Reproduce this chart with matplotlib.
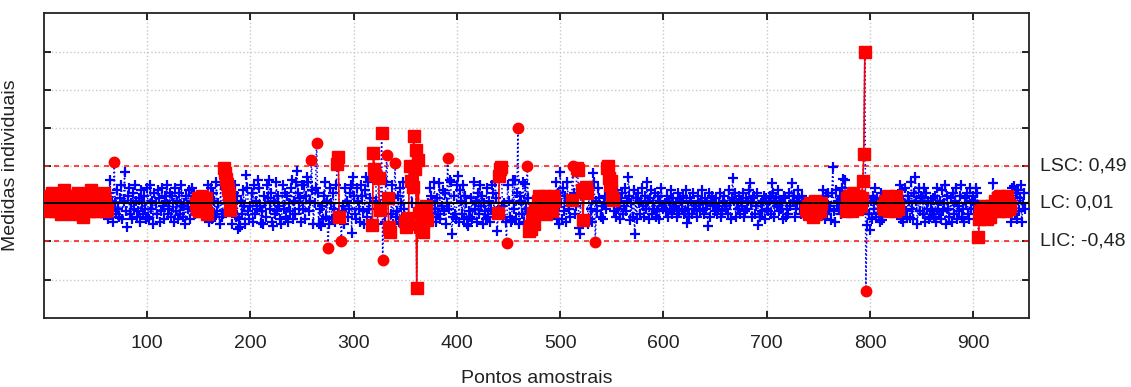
import matplotlib
matplotlib.use("Agg")
import matplotlib.pyplot as plt
import numpy as np

plt.rcParams['font.family'] = ['Liberation Sans', 'DejaVu Sans']

# control limits
LSC, LC, LIC = 0.49, 0.01, -0.48

# base measurements, one letter per sample: 'j' = on LC, each letter step 0.034
rows = [
    "jlhmgkinhj gkmhjfliog kigmhkjfmh lgnijhkemi hmjgkolhjg",  # 1-50
    "kigmljhnkg hdnpgkcmjf ohelqdkiga mpfjdnhqke glcojfmhdp",  # 51-100
    "edqhkbnjfo lcgpidmkqf hnemjcpgkd nfqiejbmho dkpgnfjhlg",  # 101-150
    "kgmijhlfqc hpdnkergjb qefmidpkcr hbgnqemjds kfoibmpgdi",  # 151-200
    "ncqfkhdpir gbmjeqldhn cpkfrgmidb qhnemcjgps dkfrbnhlcq",  # 201-250
    "hqdmcrgkeo bjpfnchqid mrekgbpjdn hcqflmdrgi bpkehnqcjm",  # 251-300
    "fdpkhcqmgb ojerhlcnfd qkbimgpejc rhdnkfqbli egmcpjdrhk",  # 301-350
    "dqhmcjgpkb rfielcnhqd gjbpmkerhc lfqdiognbj phcrkemfdq",  # 351-400
    "hcokfqdmjb pgeldrhkcn fqimbjgdpe kchqnfrlgd mbpiejchqk",  # 401-450
    "ecpjhqdngb mkfrcihjlg dpekqbhkmi gjlhmfkijh lgmkhrdnbq",  # 451-500
    "jdpgmcrhek qbnfidlchp kgqemjbodh cnrfkgplei djmhqcfkbn",  # 501-550
    "kgmeohjdln fipgkdmhje ogldnjfkpi emhgkdlofj hnegmdkpih",  # 551-600
    "jgmekhoflh ijenglkhmf gojhelkfnh iemjgkohfl hjgnekmijg",  # 601-650
    "lfhjnegkmi hfojdlgkne jhmfkinegl hkogjelmfi nhejgkmdlh",  # 651-700
    "gkmfhnejli ogkhjdmleh fnigkmehjo lhfmjgkhgi fjhgeikfhg",  # 701-750
    "hgjokdmfnh ienlgcojkh mfpdkigljm hkgnilhjmk ilhkcoflfd",  # 751-800
    "kdmhpeljfc ngihkjmgli jhkgmihlqd ocjpgemkcr hdnfkbpgml",  # 801-850
    "fpcnhkdqjg lemcphfkdo gjqbmhelcn fkpdigmqeh cljnfdphkm",  # 851-900
    "hkpnedghfe igdfheigfh kjhlgmijlh kgmjhicpkf ndoglqcjnh",  # 901-950
]

# runs of samples flagged by the zone rules (drawn as red squares)
runs = [(1, 61), (147, 158), (174, 180), (477, 494), (738, 753),
        (777, 792), (813, 827), (906, 918), (920, 936)]

# individual red squares
sq_x = [174, 175, 176, 177, 178, 179, 180, 284, 285, 286,
        318, 319, 320, 321, 324, 325, 327, 333, 334, 335,
        350, 351, 352, 353, 354, 355, 357, 358, 359, 360, 361, 362,
        363, 364, 365, 366, 367, 368, 369, 370, 371,
        440, 441, 442, 443, 470, 471, 472, 473, 474, 475, 476,
        511, 516, 517, 521, 522, 523, 524, 525, 526,
        545, 546, 547, 548, 549, 550, 551, 793, 794, 795, 905]
sq_y = [0.47, 0.40, 0.33, 0.26, 0.19, 0.12, -0.08, 0.52, 0.61, -0.17,
        -0.27, 0.66, 0.46, 0.38, 0.34, -0.08, 0.92, 0.08, -0.30, -0.36,
        -0.22, -0.30, -0.25, -0.18, 0.50, 0.30, 0.22, 0.88, 0.46, 0.70, -1.08, 0.57,
        -0.12, -0.30, -0.05, -0.20, -0.36, -0.10, -0.15, -0.02, -0.20,
        -0.12, 0.36, 0.45, 0.48, -0.35, -0.28, -0.32, -0.20, -0.12, -0.25, -0.08,
        0.06, 0.47, 0.44, 0.18, -0.21, 0.20, 0.16, 0.22, 0.14,
        0.47, 0.50, 0.34, 0.25, 0.30, 0.09, 0.05, 0.30, 0.65, 1.97, -0.42]

# points beyond the limits (red circles)
circ_x = [68, 259, 264, 275, 288, 328, 332, 340, 391, 448, 459, 468, 512, 534, 796]
circ_y = [0.54, 0.57, 0.79, -0.57, -0.48, -0.72, 0.63, 0.53, 0.60, -0.50,
          0.99, 0.50, 0.50, -0.49, -1.12]

# larger ordinary points
out_x = [64, 78, 188, 190, 196, 207, 210, 218, 222, 245, 255, 266, 268, 298, 299,
         312, 383, 393, 395, 401, 411, 439, 453, 454, 456, 466, 500, 518, 519, 532,
         566, 568, 572, 584, 623, 643, 667, 684, 692, 705, 724, 762, 764, 774, 776,
         797, 800, 812, 839, 844, 858, 904, 919, 939]
out_y = [0.31, 0.41, -0.32, -0.30, 0.38, 0.31, -0.24, 0.31, -0.28, 0.43, 0.35, -0.25,
         -0.28, -0.37, 0.35, 0.35, 0.27, 0.31, -0.38, 0.36, -0.28, -0.34, -0.20, 0.31,
         0.31, 0.26, 0.41, -0.31, -0.38, 0.40, 0.35, -0.21, -0.38, 0.29, -0.24, -0.28,
         0.34, 0.27, -0.27, 0.27, 0.27, -0.21, 0.48, 0.32, 0.31, -0.27, -0.33, -0.21,
         -0.18, 0.35, -0.16, 0.15, 0.28, 0.24]

xtick_vals = [100, 200, 300, 400, 500, 600, 700, 800, 900]

# --- assemble the series
codes = np.array([ord(c) - ord('j') for c in ''.join(rows).replace(' ', '')])
n = len(codes)
x = np.arange(1, n + 1)
y = LC + codes * 0.034

red = np.zeros(n, dtype=bool)
for a, b in runs:
    red[a - 1:b] = True
for xi, yi in zip(out_x, out_y):
    y[xi - 1] = yi
for xi, yi in zip(sq_x, sq_y):
    y[xi - 1] = yi
    red[xi - 1] = True
circ = np.zeros(n, dtype=bool)
for xi, yi in zip(circ_x, circ_y):
    y[xi - 1] = yi
    circ[xi - 1] = True
    red[xi - 1] = False

blue = ~red & ~circ

fig = plt.figure(figsize=(11.31, 3.87), dpi=100)
ax = fig.add_axes([44 / 1131, 1 - 318 / 387, 985 / 1131, 305 / 387])

yticks = [-0.975, -0.48, 0.01, 0.49, 0.98, 1.47, 1.96]
ax.set_xlim(0, 954)
ax.set_ylim(-1.47, 2.47)
ax.set_xticks(xtick_vals)
ax.set_yticks(yticks)
ax.set_yticklabels([])
ax.grid(True, color='#c8c8c8', ls=':', lw=1)
ax.set_axisbelow(True)
ax.tick_params(direction='in', length=5, width=1.2, top=True, right=True,
               labelsize=14, labelcolor='#222222', pad=12)
for s in ax.spines.values():
    s.set_linewidth(1.3)
    s.set_color('#222222')

ax.axhline(LSC, color='#ff2020', ls=(0, (3, 3)), lw=1.2, zorder=2)
ax.axhline(LIC, color='#ff2020', ls=(0, (3, 3)), lw=1.2, zorder=2)

ax.plot(x, y, color='#0000ff', ls=':', lw=1.1, zorder=3)
ax.plot(x[blue], y[blue], ls='none', marker='+', ms=7, mew=1.6,
        color='#0000ff', zorder=4)
ax.plot(x, np.where(red, y, np.nan), color='#ff0000', lw=1.2, zorder=5)
ax.plot(x[red], y[red], ls='none', marker='s', ms=8.5, color='#ff0000',
        mec='#ff0000', zorder=6)
ax.plot(x[circ], y[circ], ls='none', marker='o', ms=7.5, color='#ff0000',
        mec='#ff0000', zorder=6)

ax.axhline(LC, color='black', lw=1.4, zorder=7)

for val, lab in [(LSC, 'LSC: 0,49'), (LC, 'LC: 0,01'), (LIC, 'LIC: -0,48')]:
    ax.text(1.011, val, lab, transform=ax.get_yaxis_transform(), fontsize=14,
            color='#222222', va='center', ha='left')

ax.set_xlabel('Pontos amostrais', fontsize=14, color='#222222')
ax.xaxis.set_label_coords(0.5, -0.17)
ax.set_ylabel('Medidas individuais', fontsize=14, color='#222222')
ax.yaxis.set_label_coords(-0.025, 0.5)

fig.savefig('out.png', dpi=100)
